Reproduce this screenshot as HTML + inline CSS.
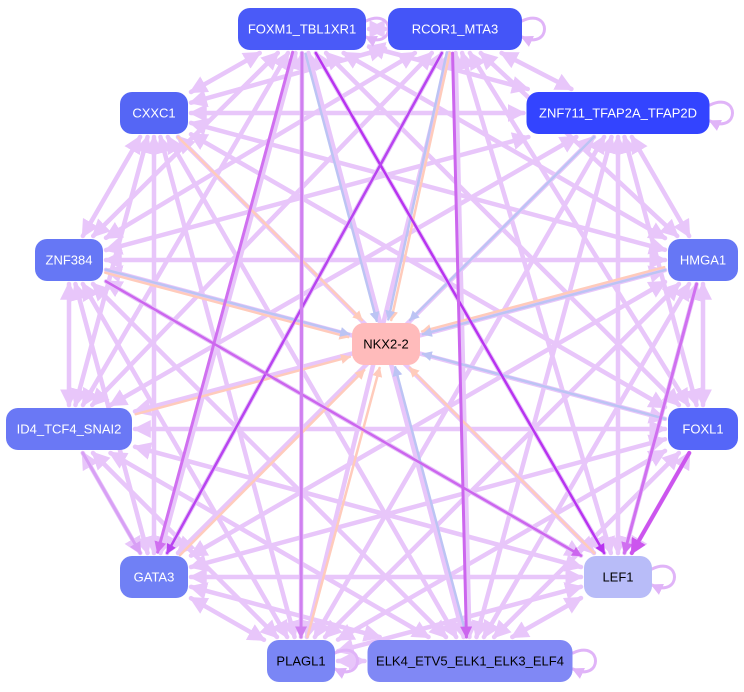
<!DOCTYPE html>
<html><head><meta charset="utf-8"><style>
html,body{margin:0;padding:0;background:#fff;}
svg{display:block;font-family:"Liberation Sans",Arial,sans-serif;}
</style></head><body>
<svg id="s" width="744" height="692" viewBox="0 0 744 692" xmlns="http://www.w3.org/2000/svg">
<defs>
<marker id="a" markerWidth="4" markerHeight="4" refX="3.5" refY="2" orient="auto" markerUnits="strokeWidth"><path d="M0,0 L4,2 L0,4z" fill="context-stroke"/></marker>
<marker id="b" markerWidth="4" markerHeight="4" refX="0.5" refY="2" orient="auto" markerUnits="strokeWidth"><path d="M4,0 L0,2 L4,4z" fill="context-stroke"/></marker>
</defs>
<g id="edges" fill="none" stroke-linecap="round"></g>
<g id="nodes"></g>
</svg>
<script>
var N={
FOX:[302,29,128,"FOXM1_TBL1XR1","#4a5af8","#fff"],
RC:[455,29,134,"RCOR1_MTA3","#4455f8","#fff"],
CX:[154,113,68,"CXXC1","#5566f5","#fff"],
ZN7:[618,113,183,"ZNF711_TFAP2A_TFAP2D","#3344ff","#fff"],
Z384:[69,260,68,"ZNF384","#6677f5","#fff"],
HM:[703,260,70,"HMGA1","#6677f5","#fff"],
NK:[386,344,68,"NKX2-2","#ffbbbb","#000"],
ID:[69,429,126,"ID4_TCF4_SNAI2","#6a78f5","#fff"],
FL:[703,429,70,"FOXL1","#5566f8","#fff"],
GA:[154,577,68,"GATA3","#7080f5","#fff"],
LE:[618,577,68,"LEF1","#b8bcf8","#000"],
PL:[301,661,68,"PLAGL1","#7a86f5","#000"],
EL:[470,661,205,"ELK4_ETV5_ELK1_ELK3_ELF4","#8088f5","#000"]
};
var ns="http://www.w3.org/2000/svg",E=document.getElementById("edges"),G=document.getElementById("nodes");
function clip(a,b){var dx=b[0]-a[0],dy=b[1]-a[1],hw=b[2]/2+3,hh=24;var t=Math.min(dx?hw/Math.abs(dx):1e9,dy?hh/Math.abs(dy):1e9);return [b[0]-dx*t,b[1]-dy*t];}
function line(a,b,c,w,off,both){var A=N[a],B=N[b];var dx=B[0]-A[0],dy=B[1]-A[1],l=Math.hypot(dx,dy),ox=-dy/l*(off||0),oy=dx/l*(off||0);
var p=clip([B[0],B[1],A[2]],[A[0],A[1],A[2]]),q=clip(A,B);
var e=document.createElementNS(ns,"line");e.setAttribute("x1",p[0]+ox);e.setAttribute("y1",p[1]+oy);e.setAttribute("x2",q[0]+ox);e.setAttribute("y2",q[1]+oy);
e.setAttribute("stroke",c);e.setAttribute("stroke-width",w);e.setAttribute("marker-end","url(#a)");if(both)e.setAttribute("marker-start","url(#b)");E.appendChild(e);}
var keys=Object.keys(N).filter(function(k){return k!="NK";});
for(var i=0;i<keys.length;i++)for(var j=i+1;j<keys.length;j++){line(keys[i],keys[j],"#e8c6fa",4.5,0,true);}
var P="#ffcbbb",B="#bcc4f4";
[["CX",P],["FOX",B],["RC",P],["RC",B],["ZN7",B],["HM",P],["HM",B],["Z384",P],["Z384",B],["ID",P],["FL",B],["GA",P],["PL",P],["EL",B],["LE",P]].forEach(function(x,i){line(x[0],"NK",x[1],2.5,(i%2)*3);});
line("FOX","LE","#b833f0",2.5);line("RC","GA","#b844f0",2.5);line("FOX","GA","#d070f0",3,3);
line("Z384","LE","#cc66ee",2.5);line("HM","LE","#d070f0",3);line("FL","LE","#cc55ee",4);
line("RC","EL","#cc66ee",3,3);line("FOX","PL","#d080f0",3);line("ID","GA","#d8a0f5",3);
function loop(x,y){var e=document.createElementNS(ns,"path");
e.setAttribute("d","M"+x+","+(y-8)+" C"+(x+30)+","+(y-22)+" "+(x+30)+","+(y+22)+" "+x+","+(y+8));
e.setAttribute("stroke","#e0b4f8");e.setAttribute("stroke-width",3);e.setAttribute("fill","none");e.setAttribute("marker-end","url(#a)");E.appendChild(e);}
loop(522,29);loop(710,113);loop(652,577);loop(573,661);loop(335,661);loop(366,29);
for(var k in N){var n=N[k];var r=document.createElementNS(ns,"rect");
r.setAttribute("x",n[0]-n[2]/2);r.setAttribute("y",n[1]-21);r.setAttribute("width",n[2]);r.setAttribute("height",42);r.setAttribute("rx",12);r.setAttribute("fill",n[4]);G.appendChild(r);
var t=document.createElementNS(ns,"text");t.setAttribute("x",n[0]);t.setAttribute("y",n[1]+4.5);t.setAttribute("text-anchor","middle");t.setAttribute("font-size","13");t.setAttribute("fill",n[5]);t.textContent=n[3];G.appendChild(t);}
</script>
</body></html>
